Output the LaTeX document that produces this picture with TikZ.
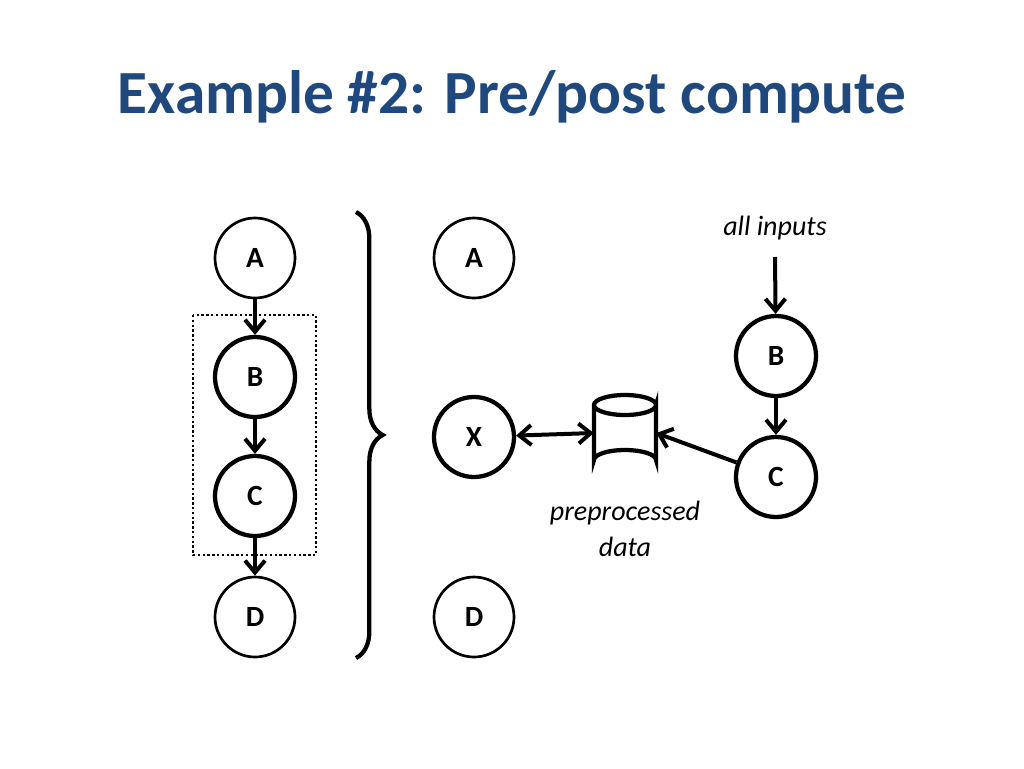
\documentclass[tikz,border=0pt]{standalone}
\usepackage{fontspec}
\setmainfont{Carlito}
\usetikzlibrary{shapes.geometric,arrows.meta,decorations.pathreplacing}
\definecolor{titleblue}{RGB}{31,73,125}
\begin{document}
\begin{tikzpicture}[x=0.75pt,y=-0.75pt,
  tip/.tip={Straight Barb[length=9pt,width=15pt,line width=3pt]},
  nd/.style={circle,draw,line width=2pt,minimum size=60pt,inner sep=0pt,font=\fontsize{22}{24}\selectfont\bfseries,fill=white},
  tk/.style={nd,line width=3.2pt},
  arr/.style={line width=3pt,-tip},
  lbl/.style={font=\fontsize{21}{27}\selectfont\itshape}]
\useasboundingbox (0,0) rectangle (1024,768);
\node[font=\fontsize{46}{50}\selectfont\bfseries,text=titleblue] (title) at (512,97) {Example \#2: Pre/post compute};
% left
\node[nd] (la) at (255,258) {A};
\node[tk] (lb) at (255,377) {B};
\node[tk] (lc) at (255,496) {C};
\node[nd] (ld) at (255,617) {D};
\draw[arr] (la) -- (lb);
\draw[arr] (lb) -- (lc);
\draw[arr] (lc) -- (ld);
\draw[line width=1.8pt,dash pattern=on 1.8pt off 1.8pt] (193,315) rectangle (316,555);
% brace
\draw[line width=3.2pt,decorate,decoration={brace,amplitude=20pt,aspect=0.5}] (356,212) -- (356,658);
% right
\node[nd] (ra) at (474,258) {A};
\node[tk] (x) at (474,437) {X};
\node[nd] (rd) at (474,617) {D};
\node[tk] (rb) at (776,356) {B};
\node[tk] (rc) at (776,477) {C};
\node[minimum width=62pt*0.75,minimum height=75pt*0.75,inner sep=0pt] (db) at (625,433) {};
\draw[line width=3.2pt,fill=white] (594,405) -- (594,460) arc[start angle=180,end angle=360,x radius=31,y radius=10] -- (656,405) arc[start angle=0,end angle=360,x radius=31,y radius=10];
\node[lbl] (ai) at (775,228) {all inputs};
\node[lbl,align=center] (pd) at (625,529) {preprocessed\\data};
\coordinate (aiend) at (775,257);
\draw[arr] (aiend) -- (rb);
\draw[arr] (rb) -- (rc);
\draw[line width=3pt,tip-tip] (x) -- (db.west);
\draw[arr] (rc) -- (db.east);
\end{tikzpicture}
\end{document}
